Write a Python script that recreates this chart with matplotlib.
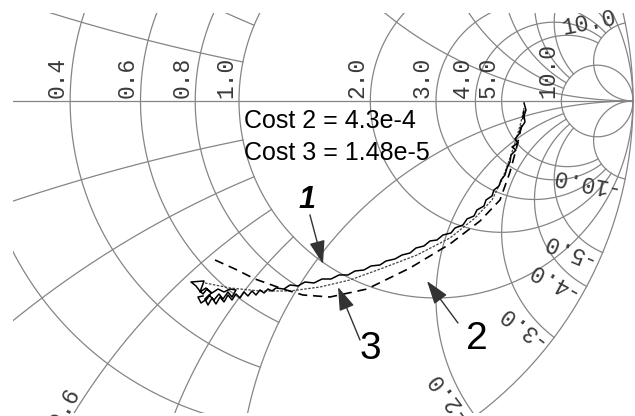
import numpy as np
import matplotlib
matplotlib.use("Agg")
import matplotlib.pyplot as plt
from matplotlib.patches import Rectangle

# ---------------- data (reflection coefficient, real / imag) ----------------
r_labels = [0.2, 0.4, 0.6, 0.8, 1.0, 2.0, 3.0, 4.0, 5.0, 10.0]
x_labels = [0.2, 0.4, 0.6, 0.8, 1.0, 2.0, 3.0, 4.0, 5.0, 10.0]

# grid groups: (values, limit of the other coordinate)
r_minor = [0.2, 0.4, 0.6, 0.8]      # drawn for |x| <= 1
r_mid = [2.0, 3.0, 4.0, 5.0]        # drawn for |x| <= 10
r_major = [0.0, 1.0, 10.0]          # full circles
x_minor = [0.2, 0.4, 0.6, 0.8]      # drawn for r <= 1
x_mid = [2.0, 3.0, 4.0, 5.0]        # drawn for r <= 10
x_major = [1.0, 10.0]               # full arcs

# measured trace (1)
meas_re = [0.7234, 0.7284, 0.7234, 0.7259, 0.7157, 0.7107, 0.7005, 0.7081, 0.6929, 0.7030,
           0.6904, 0.6878, 0.6802, 0.6751, 0.6650, 0.6599, 0.6472, 0.6421, 0.6269, 0.6218,
           0.6040, 0.5964, 0.5787, 0.5685, 0.5482, 0.5381, 0.5178, 0.5025, 0.4848, 0.4695,
           0.4492, 0.4340, 0.4137, 0.3959, 0.3731, 0.3579, 0.3350, 0.3173, 0.2944, 0.2766,
           0.2538, 0.2335, 0.2107, 0.1904, 0.1675, 0.1497, 0.1294, 0.1142, 0.0939,
           0.0838, 0.0736, 0.0635, 0.0533, 0.0431, 0.0330, 0.0228, 0.0127, 0.0025, -0.0076,
           -0.0178, -0.0279, -0.0381, -0.0482, -0.0584, -0.0685, -0.0787, -0.0863, -0.0761, -0.0635,
           -0.0508, -0.0406, -0.0279, -0.0178, -0.0076, -0.0228, -0.0381, -0.0533, -0.0685, -0.0812,
           -0.0914, -0.1015, -0.1091, -0.1218, -0.0888, -0.0990, -0.0838, -0.0711, -0.0812, -0.0964,
           -0.1041, -0.0914]
meas_im = [-0.0051, -0.0228, -0.0381, -0.0533, -0.0685, -0.0838, -0.0964, -0.1066, -0.1168, -0.1244,
           -0.1371, -0.1548, -0.1701, -0.1878, -0.2005, -0.2157, -0.2259, -0.2411, -0.2513, -0.2665,
           -0.2766, -0.2919, -0.2995, -0.3147, -0.3223, -0.3350, -0.3401, -0.3528, -0.3553, -0.3680,
           -0.3731, -0.3858, -0.3909, -0.4010, -0.4061, -0.4162, -0.4188, -0.4289, -0.4315, -0.4416,
           -0.4416, -0.4518, -0.4518, -0.4619, -0.4594, -0.4695, -0.4670, -0.4772, -0.4746,
           -0.4822, -0.4772, -0.4873, -0.4797, -0.4924, -0.4822, -0.4949, -0.4848, -0.5000, -0.4898,
           -0.5051, -0.4924, -0.5101, -0.4975, -0.5152, -0.5000, -0.5178, -0.5025, -0.4924, -0.5051,
           -0.4898, -0.5025, -0.4848, -0.4975, -0.4797, -0.4772, -0.4848, -0.4772, -0.4873, -0.4772,
           -0.4898, -0.4797, -0.4695, -0.4594, -0.4568, -0.4848, -0.4746, -0.4873, -0.5025, -0.5127,
           -0.4975, -0.4949]

# model 2 (dashed)
m2_re = [-0.0609, -0.0102, 0.0406, 0.1117, 0.1624, 0.2310, 0.3249, 0.4340, 0.5355, 0.6117,
         0.6624, 0.6878, 0.7030, 0.7132, 0.7208, 0.7234]
m2_im = [-0.4036, -0.4264, -0.4518, -0.4772, -0.4924, -0.4975, -0.4772, -0.4239, -0.3629, -0.3046,
         -0.2513, -0.1802, -0.1244, -0.0812, -0.0431, -0.0228]

# model 3 (fine dotted)
m3_re = [-0.0863, -0.0228, 0.0533, 0.1294, 0.2056, 0.2817, 0.3655, 0.4518, 0.5355, 0.5990,
         0.6421, 0.6675, 0.6878, 0.7030, 0.7157, 0.7234]
m3_im = [-0.4619, -0.4746, -0.4822, -0.4822, -0.4721, -0.4543, -0.4239, -0.3909, -0.3477, -0.2970,
         -0.2513, -0.2005, -0.1447, -0.0990, -0.0533, -0.0178]

cost_lines = ["Cost 2 = 4.3e-4", "Cost 3 = 1.48e-5"]

# ---------------- figure ----------------
fig = plt.figure(figsize=(6.35, 4.16), dpi=100)
ax = fig.add_axes([0, 0, 1, 1])
ax.set_xlim(-0.6066, 1.0051)
ax.set_ylim(-0.7995, 0.2563)
ax.axis("off")

clip = Rectangle((-0.5736, -0.7919), 1.60, 1.0153, transform=ax.transData)

GRID = "#858585"
LW = 0.9
EPS = 1e-7


def gam(z):
    return (z - 1) / (z + 1)


def draw(g):
    ln, = ax.plot(g.real, g.imag, color=GRID, lw=LW, zorder=1)
    ln.set_clip_path(clip)


def r_circle(r, xmax):
    tmax = np.pi / 2 - EPS if xmax is None else np.arctan(xmax)
    t = np.linspace(-tmax, tmax, 800)
    draw(gam(r + 1j * np.tan(t)))


def x_arc(x, rmax):
    tmax = np.pi / 2 - EPS if rmax is None else np.arctan(rmax)
    t = np.linspace(0, tmax, 800)
    draw(gam(np.tan(t) + 1j * x))


for r in r_minor:
    r_circle(r, 1.0)
for r in r_mid:
    r_circle(r, 10.0)
for r in r_major:
    r_circle(r, None)
for x in x_minor:
    x_arc(x, 1.0)
    x_arc(-x, 1.0)
for x in x_mid:
    x_arc(x, 10.0)
    x_arc(-x, 10.0)
for x in x_major:
    x_arc(x, None)
    x_arc(-x, None)
ln, = ax.plot([-1, 1], [0, 0], color=GRID, lw=LW, zorder=1)
ln.set_clip_path(clip)

# ---------------- grid labels ----------------
LBL = dict(family="Liberation Mono", fontsize=16.5, color="#3a3a3a")
px = 1 / 394.0
for r in r_labels:
    gl = (r - 1) / (r + 1)
    ax.text(gl - 2 * px, 3 * px, f"{r:.1f}", rotation=90, ha="right", va="bottom", **LBL)

for x in x_labels:
    for s in (1, -1):
        xv = s * x
        ge = gam(1j * xv)
        th = np.degrees(np.angle(ge))
        a = ge * (1 - 8 * px)
        if s > 0:
            ax.text(a.real, a.imag, f"{xv:.1f}", rotation=th, rotation_mode="anchor",
                    ha="right", va="baseline", **LBL)
        else:
            ax.text(a.real, a.imag, f"{xv:.1f}", rotation=th + 180, rotation_mode="anchor",
                    ha="left", va="bottom", **LBL)

# ---------------- curves ----------------
ax.plot(m3_re, m3_im, color="#444444", lw=0.9, ls=(0, (2.0, 1.2)), zorder=3)
ax.plot(m2_re, m2_im, color="black", lw=1.2, ls=(0, (5.5, 3.5)), zorder=3)
ax.plot(meas_re, meas_im, color="black", lw=1.1, zorder=4)

# ---------------- annotations ----------------
ax.text(0.0127, -0.0508, cost_lines[0], ha="left", va="center",
        family="Liberation Sans", fontsize=18, color="black")
ax.text(0.0127, -0.132, cost_lines[1], ha="left", va="center",
        family="Liberation Sans", fontsize=18, color="black")

ARW = dict(arrowstyle="-|>,head_length=0.9,head_width=0.3", color="#333333",
           lw=1.0, mutation_scale=16, shrinkA=0, shrinkB=0)
ax.text(0.1726, -0.2513, "1", ha="center", va="center", family="Liberation Sans",
        fontsize=22, fontweight="bold", style="italic")
ax.annotate("", xy=(0.2132, -0.4137), xytext=(0.180, -0.289), arrowprops=ARW, zorder=5)
ax.text(0.3325, -0.6294, "3", ha="center", va="center", family="Liberation Sans", fontsize=28)
ax.annotate("", xy=(0.2513, -0.4721), xytext=(0.3071, -0.6066), arrowprops=ARW, zorder=5)
ax.text(0.6041, -0.6041, "2", ha="center", va="center", family="Liberation Sans", fontsize=28)
ax.annotate("", xy=(0.4772, -0.4569), xytext=(0.5558, -0.5635), arrowprops=ARW, zorder=5)

fig.savefig("out.png", dpi=100)
